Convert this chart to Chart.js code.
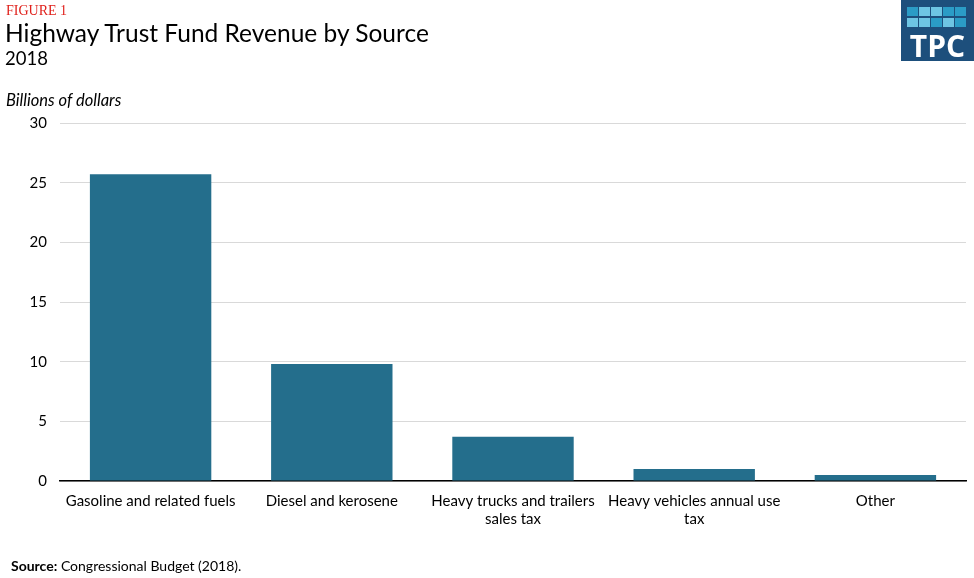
<!DOCTYPE html>
<html>
<head>
<meta charset="utf-8">
<script src="https://cdn.jsdelivr.net/npm/chart.js@4.4.1/dist/chart.umd.min.js"></script>
<style>
  body { margin: 0; background: #fff; }
  .wrap { position: relative; width: 974px; height: 578px; font-family: 'Lato', sans-serif; }
  canvas { position: absolute; left: 0; top: 0; }
  .fig { position: absolute; left: 6px; top: 3px; font-family: 'Liberation Serif', serif; font-size: 14px; color: #e0201b; }
  .title { position: absolute; left: 5px; top: 18px; font-size: 24.5px; color: #000; }
  .sub { position: absolute; left: 5px; top: 47px; font-size: 18.5px; color: #000; }
  .unit { position: absolute; left: 6px; top: 90px; font-size: 16.5px; font-style: italic; color: #000; }
  .src { position: absolute; left: 11px; top: 557px; font-size: 14px; color: #000; }
  .logo { position: absolute; left: 901px; top: 0; width: 73px; height: 61px; background: #1d4f7c; }
  .sq { position: absolute; width: 10px; height: 9px; }
  .tpc { position: absolute; left: 0; width: 73px; top: 25px; text-align: center; color: #fff; font-weight: bold; font-size: 30px; font-family: 'Open Sans', sans-serif; }
</style>
</head>
<body>
<div class="wrap">
  <canvas id="chart" width="974" height="578"></canvas>
  <div class="fig">FIGURE 1</div>
  <div class="title">Highway Trust Fund Revenue by Source</div>
  <div class="sub">2018</div>
  <div class="unit">Billions of dollars</div>
  <div class="src"><b>Source:</b> Congressional Budget (2018).</div>
  <div class="logo" id="logo"><div class="tpc">TPC</div></div>
</div>
<script>
const categories = [
  'Gasoline and related fuels',
  'Diesel and kerosene',
  ['Heavy trucks and trailers', 'sales tax'],
  ['Heavy vehicles annual use', 'tax'],
  'Other'
];
const revenue = [25.7, 9.8, 3.7, 1.0, 0.5];
const yTicks = [0, 5, 10, 15, 20, 25, 30];

// logo squares
const logoColors = [
  ['#2b9cc6', '#6ec5e3', '#6ec5e3', '#2b9cc6', '#2b9cc6'],
  ['#6ec5e3', '#6ec5e3', '#2b9cc6', '#6ec5e3', '#2b9cc6']
];
const logo = document.getElementById('logo');
logoColors.forEach((row, r) => {
  row.forEach((c, i) => {
    const d = document.createElement('div');
    d.className = 'sq';
    d.style.left = (6 + i * 12) + 'px';
    d.style.top = (7 + r * 11) + 'px';
    d.style.width = '11px';
    d.style.background = c;
    logo.appendChild(d);
  });
});

new Chart(document.getElementById('chart'), {
  type: 'bar',
  data: {
    labels: categories,
    datasets: [{
      data: revenue,
      backgroundColor: '#246e8c',
      categoryPercentage: 0.67,
      barPercentage: 1
    }]
  },
  options: {
    responsive: false,
    animation: false,
    layout: { padding: { top: 123, right: 8, left: 0, bottom: 0 } },
    plugins: { legend: { display: false }, tooltip: { enabled: false } },
    scales: {
      x: {
        afterFit: s => { s.height = 97; },
        grid: { display: false, drawTicks: false },
        border: { color: '#000', width: 1.5 },
        ticks: {
          color: '#000',
          padding: 11,
          maxRotation: 0,
          autoSkip: false,
          font: { family: 'Lato', size: 15 }
        }
      },
      y: {
        min: 0,
        max: 30,
        afterFit: s => { s.width = 60; },
        afterBuildTicks: s => { s.ticks = yTicks.map(v => ({ value: v })); },
        grid: { color: '#d9d9d9', drawTicks: false },
        border: { display: false },
        ticks: {
          color: '#000',
          padding: 13,
          font: { family: 'Lato', size: 15 }
        }
      }
    }
  }
});
</script>
</body>
</html>
